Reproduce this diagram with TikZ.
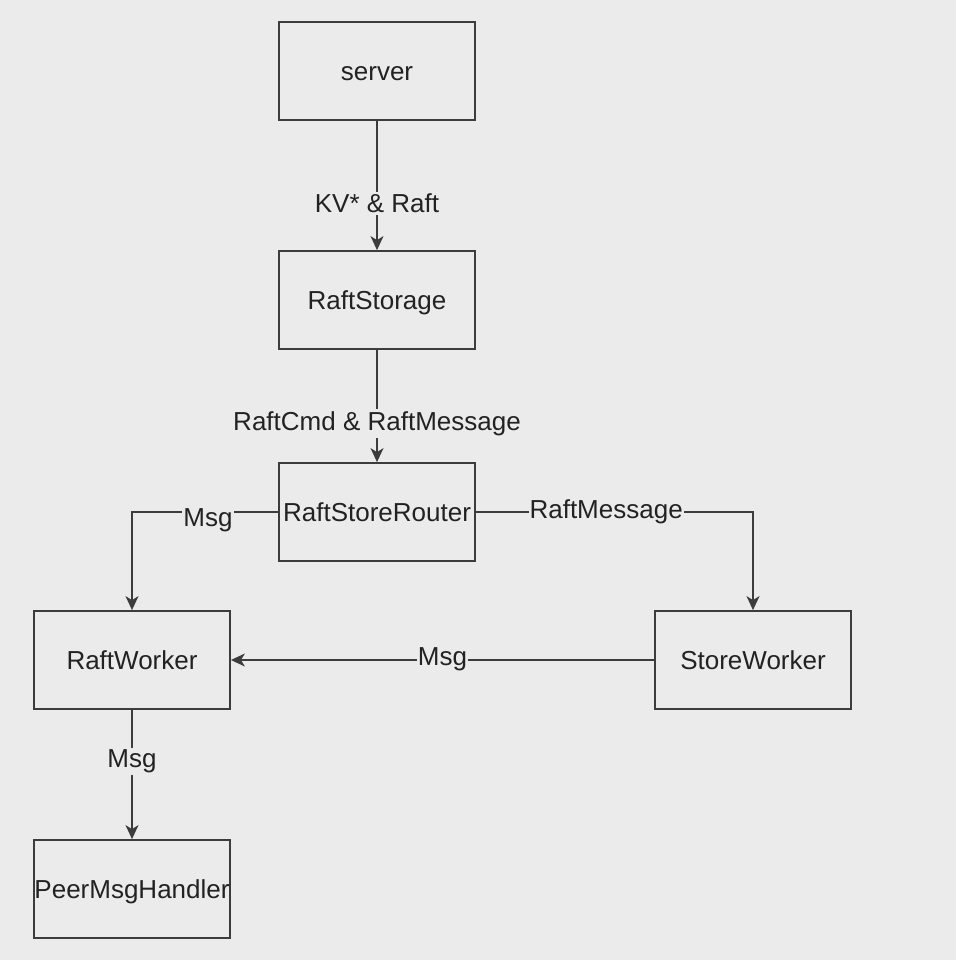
\documentclass[tikz,border=0pt]{standalone}
\usepackage{fontspec}
\setmainfont{Liberation Sans}
\usetikzlibrary{arrows.meta}
\definecolor{bg}{HTML}{EBEBEB}
\definecolor{ink}{HTML}{3C3C3C}
\definecolor{txt}{HTML}{222222}
\begin{document}
\begin{tikzpicture}[x=1pt,y=-1pt,
  box/.style={draw=ink,line width=1.8pt,minimum width=196pt,minimum height=98pt,inner sep=0pt,font=\fontsize{26}{28}\selectfont,text=txt,text depth=0pt,text height=18.6pt},
  conn/.style={draw=ink,line width=1.5pt,-{Stealth[length=14pt,width=13pt,inset=4pt]}},
  lbl/.style={fill=bg,inner xsep=1pt,inner ysep=2pt,font=\fontsize{26}{28}\selectfont,text=txt}]
\path[fill=bg] (0,0) rectangle (956,960);
\useasboundingbox (0,0) rectangle (956,960);
\node[box] (server) at (377,71) {server};
\node[box] (storage) at (377,300) {RaftStorage};
\node[box] (router) at (377,512) {RaftStoreRouter};
\node[box] (rworker) at (132,660) {RaftWorker};
\node[box] (sworker) at (753,660) {StoreWorker};
\node[box] (handler) at (132,889) {PeerMsgHandler};
\draw[conn] (server) -- node[lbl,pos=0.64] {KV* \& Raft} (storage);
\draw[conn] (storage) -- node[lbl,pos=0.62,yshift=-4pt] {RaftCmd \& RaftMessage} (router);
\draw[conn] (router.west) -- node[lbl,pos=0.48,yshift=-8pt] {Msg} (rworker.north |- router.west) -- (rworker.north);
\draw[conn] (router.east) -- node[lbl,pos=0.47] {RaftMessage} (sworker.north |- router.east) -- (sworker.north);
\draw[conn] (sworker.west) -- node[lbl,pos=0.5,yshift=1pt] {Msg} (rworker.east);
\draw[conn] (rworker) -- node[lbl,pos=0.4] {Msg} (handler);
\end{tikzpicture}
\end{document}
